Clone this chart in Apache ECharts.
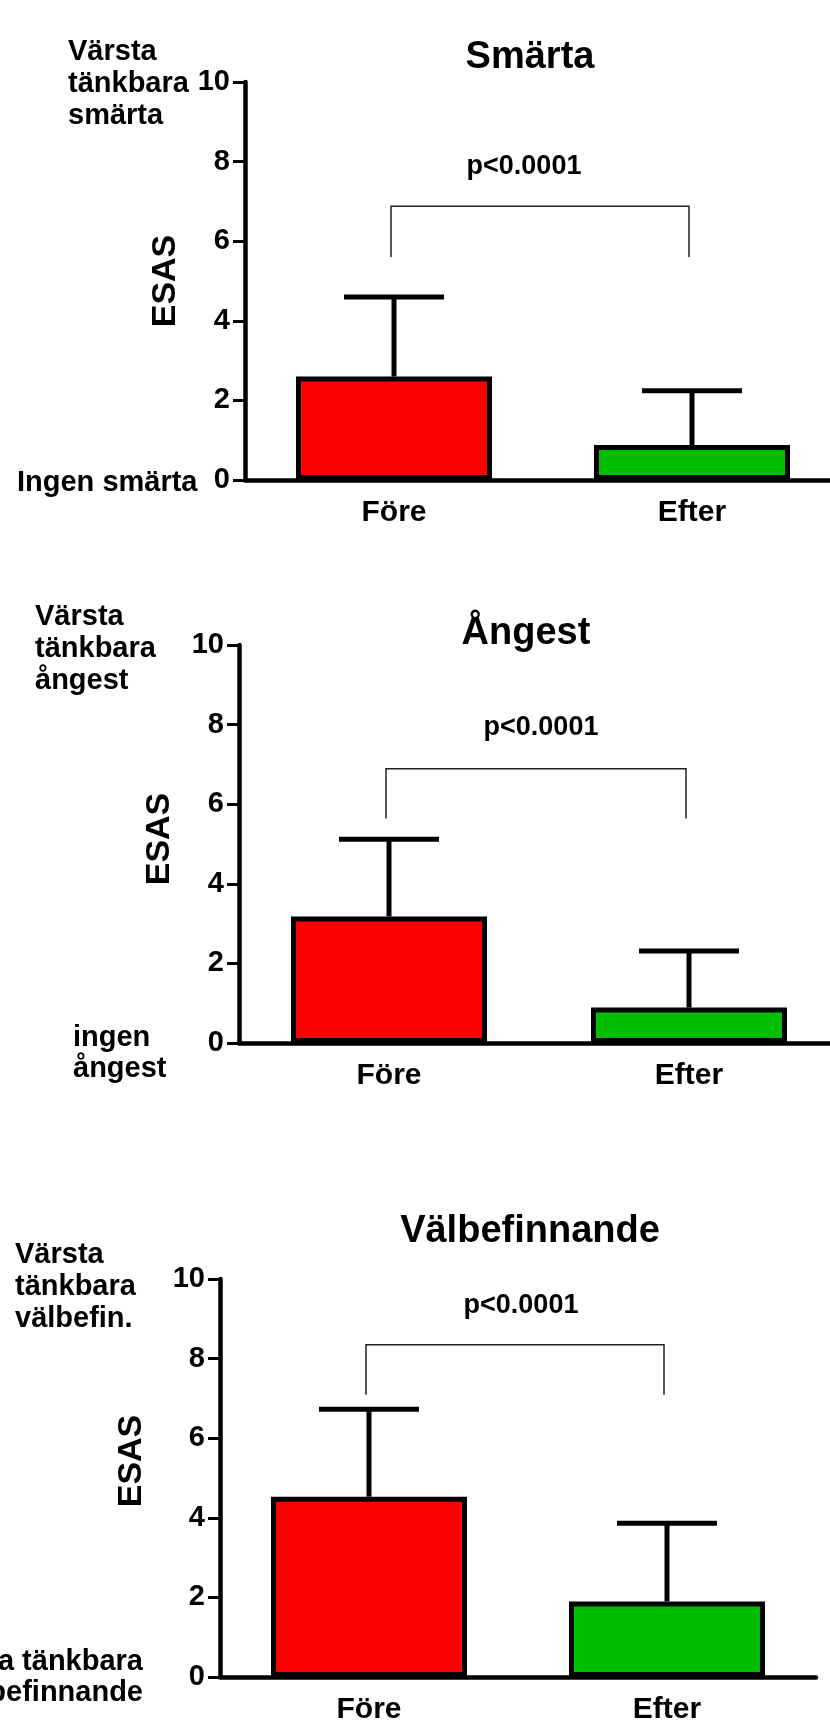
<!DOCTYPE html>
<html>
<head>
<meta charset="utf-8">
<script src="https://cdn.jsdelivr.net/npm/echarts@6/dist/echarts.min.js"></script>
<style>
  html, body { margin: 0; padding: 0; background: #fff; }
  #chart { width: 830px; height: 1722px; }
</style>
</head>
<body>
<div id="chart"></div>
<script>
// data
const categories = ['Före', 'Efter'];
const panelTitles = ['Smärta', 'Ångest', 'Välbefinnande'];
const meanValues = [[2.6, 0.88], [3.18, 0.89], [4.53, 1.9]];
const errorTops = [[4.6, 2.24], [5.12, 2.31], [6.73, 3.86]];
const bracketTops = [6.88, 6.89, 8.35];
const bracketEnds = [5.6, 5.64, 7.09];
const pLabels = ['p<0.0001', 'p<0.0001', 'p<0.0001'];
const yMin = 0, yMax = 10, yStep = 2;
const topNotes = ['Värsta\ntänkbara\nsmärta', 'Värsta\ntänkbara\nångest', 'Värsta\ntänkbara\nvälbefin.'];
const bottomNotes = ['Ingen smärta', 'ingen\nångest', 'Bästa tänkbara\nvälbefinnande'];
const barColors = ['#ff0000', '#00bf00'];

// layout of each panel (pixels)
const panels = [
  { left: 245, top: 82, width: 596, height: 398, title: [530, 58], p: [524, 167], esas: [166, 281],
    topNote: [68, 36], bottomNote: [17, 467, 'left'] },
  { left: 239, top: 645, width: 600, height: 398, title: [526, 634], p: [541, 728], esas: [160, 839],
    topNote: [35, 601], bottomNote: [73, 1022, 'left'] },
  { left: 220, top: 1279, width: 596, height: 398, title: [530, 1232], p: [521, 1306], esas: [132, 1461],
    topNote: [15, 1239], bottomNote: [143, 1646, 'right'] }
]

const FONT = '"Liberation Sans", Arial, Helvetica, sans-serif';

const chart = echarts.init(document.getElementById('chart'));

// error bar: line from bar top up to mean + SD with a cap
const renderError = (params, api) => {
  const x = api.value(0);
  const base = api.coord([x, api.value(1)]);
  const top = api.coord([x, api.value(2)]);
  const st = { stroke: '#000', lineWidth: 5 };
  return {
    type: 'group',
    children: [
      { type: 'line', shape: { x1: base[0], y1: base[1], x2: top[0], y2: top[1] }, style: st },
      { type: 'line', shape: { x1: top[0] - 50, y1: top[1], x2: top[0] + 50, y2: top[1] }, style: st }
    ]
  };
};

// significance bracket between the two groups
const renderBracket = (params, api) => {
  const a = api.coord([api.value(0), api.value(3)]);
  const b = api.coord([api.value(0), api.value(2)]);
  const c = api.coord([api.value(1), api.value(2)]);
  const d = api.coord([api.value(1), api.value(3)]);
  return {
    type: 'polyline',
    shape: { points: [a, b, c, d].map(p => [p[0] - 3, p[1]]) },
    style: { stroke: '#222', lineWidth: 1.5, fill: null }
  };
};

const grid = [], xAxis = [], yAxis = [], series = [], graphic = [];

panels.forEach((pn, i) => {
  grid.push({ left: pn.left, top: pn.top, width: pn.width, height: pn.height, outerBoundsMode: 'none' });

  xAxis.push({
    type: 'category',
    gridIndex: i,
    data: categories,
    axisLine: { lineStyle: { color: '#000', width: 4.5 } },
    axisTick: { alignWithLabel: true, length: 10, lineStyle: { color: '#000', width: 3 } },
    axisLabel: { color: '#000', fontSize: 30, fontWeight: 'bold', fontFamily: FONT, margin: 18 }
  });

  yAxis.push({
    type: 'value',
    gridIndex: i,
    min: yMin,
    max: yMax,
    interval: yStep,
    splitLine: { show: false },
    axisLine: { show: true, lineStyle: { color: '#000', width: 4.5 } },
    axisTick: { show: true, length: 12, lineStyle: { color: '#000', width: 3 } },
    axisLabel: { color: '#000', fontSize: 29, fontWeight: 'bold', fontFamily: FONT, margin: 15 }
  });

  series.push({
    type: 'bar',
    xAxisIndex: i,
    yAxisIndex: i,
    barWidth: 196,
    data: meanValues[i].map((v, j) => ({
      value: v,
      itemStyle: { color: barColors[j], borderColor: '#000', borderWidth: 5 }
    }))
  });

  series.push({
    type: 'custom',
    xAxisIndex: i,
    yAxisIndex: i,
    renderItem: renderError,
    encode: { x: 0, y: [1, 2] },
    data: categories.map((c, j) => [j, meanValues[i][j], errorTops[i][j]]),
    z: 3
  });

  series.push({
    type: 'custom',
    xAxisIndex: i,
    yAxisIndex: i,
    renderItem: renderBracket,
    encode: { x: [0, 1], y: [2, 3] },
    data: [[0, 1, bracketTops[i], bracketEnds[i]]],
    z: 3
  });

  graphic.push(
    { type: 'text', x: pn.title[0], y: pn.title[1],
      style: { text: panelTitles[i], font: 'bold 38px ' + FONT, fill: '#000', textAlign: 'center', textVerticalAlign: 'middle' } },
    { type: 'text', x: pn.p[0], y: pn.p[1],
      style: { text: pLabels[i], font: 'bold 27px ' + FONT, fill: '#000', textAlign: 'center', textVerticalAlign: 'middle' } },
    { type: 'text', x: pn.esas[0], y: pn.esas[1], rotation: Math.PI / 2,
      style: { text: 'ESAS', font: 'bold 34px ' + FONT, fill: '#000', textAlign: 'center', textVerticalAlign: 'middle' } },
    { type: 'text', x: pn.topNote[0], y: pn.topNote[1],
      style: { text: topNotes[i], font: 'bold 29px ' + FONT, lineHeight: 32, fill: '#000', textAlign: 'left', textVerticalAlign: 'top' } },
    { type: 'text', x: pn.bottomNote[0], y: pn.bottomNote[1],
      style: { text: bottomNotes[i], font: 'bold 29px ' + FONT, lineHeight: 31, fill: '#000', textAlign: pn.bottomNote[2], textVerticalAlign: 'top' } }
  );
});

chart.setOption({
  animation: false,
  backgroundColor: '#fff',
  grid,
  xAxis,
  yAxis,
  series,
  graphic
});
</script>
</body>
</html>
